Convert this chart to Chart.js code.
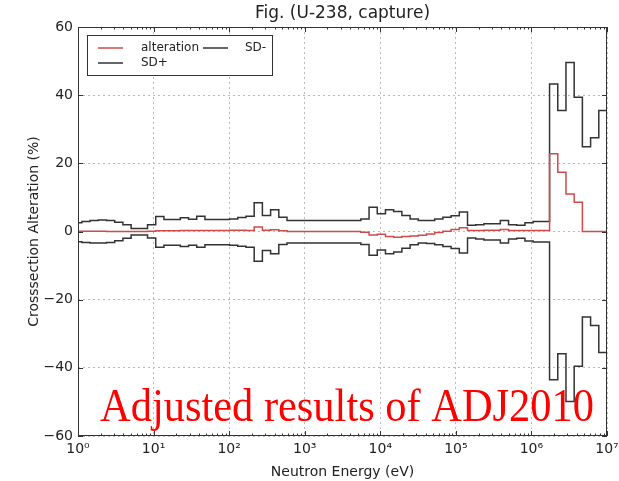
<!DOCTYPE html>
<html>
<head>
<meta charset="utf-8">
<script src="https://cdn.jsdelivr.net/npm/chart.js@4.4.0/dist/chart.umd.min.js"></script>
<style>
  body { margin: 0; background: #fff; }
  canvas { display: block; }
</style>
</head>
<body>
<canvas id="chart" width="619" height="481"></canvas>
<script>
// group edges in eV (last value closes the top group)
const energyEdges = [1, 1.125, 1.445, 1.855, 2.382, 3.059, 3.928, 5.044, 8.315, 10.68,
  13.71, 22.60, 29.02, 37.27, 47.85, 101.3, 130.1, 167.0, 214.5, 275.4,
  353.6, 454.0, 582.9, 5531, 7102, 9119, 11709, 15034, 19305, 24788,
  31828, 40868, 52475, 67379, 86517, 111090, 142642, 183156, 235177, 387742,
  497871, 639279, 820850, 1053992, 1737739, 2231302, 2865048, 3678794, 4723666, 6065307,
  7788008, 1e7];

const alteration = [0.1, 0.1, 0.1, 0.1, 0.0, 0.0, 0.0, 0.0, 0.1, 0.2,
  0.2, 0.3, 0.3, 0.3, 0.3, 0.4, 0.4, 0.3, 1.3, 0.4,
  0.5, 0.2, 0.0, -0.2, -1.0, -0.8, -1.5, -1.7, -1.5, -1.3,
  -1.1, -0.7, -0.3, 0.1, 0.6, 1.1, 0.3, 0.3, 0.4, 0.6,
  0.3, 0.3, 0.3, 0.3, 22.8, 17.4, 11.0, 8.6, 0, 0,
  0];

const sdPlus = [2.6, 2.9, 3.2, 3.4, 3.2, 2.7, 2.0, 0.9, 2.0, 4.4,
  3.5, 4.0, 3.6, 4.5, 3.5, 3.7, 4.1, 4.5, 8.4, 4.7,
  6.4, 4.2, 3.2, 3.7, 7.1, 5.2, 6.4, 5.9, 4.7, 3.7,
  3.2, 3.2, 3.7, 4.2, 4.6, 5.7, 1.8, 2.0, 2.3, 3.2,
  2.0, 1.8, 2.6, 2.9, 43.3, 35.5, 49.6, 39.4, 24.9, 27.5,
  35.5];

const sdMinus = [-3.0, -3.2, -3.4, -3.4, -3.2, -2.7, -2.0, -1.0, -1.9, -4.6,
  -4.0, -4.4, -4.0, -4.6, -3.9, -4.0, -4.3, -4.6, -8.7, -5.6,
  -6.5, -3.8, -3.4, -3.8, -7.0, -5.4, -6.5, -6.0, -4.9, -3.9,
  -3.4, -3.5, -3.9, -4.4, -5.0, -6.3, -1.9, -2.2, -2.5, -3.4,
  -2.2, -2.0, -2.8, -3.1, -43.5, -35.9, -49.9, -39.5, -25.1, -27.6,
  -35.5];

const xDecades = [1, 10, 100, 1e3, 1e4, 1e5, 1e6, 1e7];
const xTickLabels = ["10\u2070", "10\u00b9", "10\u00b2", "10\u00b3", "10\u2074", "10\u2075", "10\u2076", "10\u2077"];
const yTicks = [-60, -40, -20, 0, 20, 40, 60];

const FONT = "'DejaVu Sans', sans-serif";

// step points: one point per group start, plus the closing edge
function toSteps(values) {
  return energyEdges.map((e, i) => ({ x: e, y: values[Math.min(i, values.length - 1)] }));
}

const decorations = {
  id: "decorations",
  afterDraw(chart) {
    const ctx = chart.ctx;
    const a = chart.chartArea;
    const xs = chart.scales.x, ys = chart.scales.y;
    ctx.save();

    // frame
    ctx.strokeStyle = "#333";
    ctx.lineWidth = 1;
    ctx.strokeRect(a.left + 0.5, a.top + 0.5, a.right - a.left - 1, a.bottom - a.top - 1);

    // inward ticks
    ctx.beginPath();
    xDecades.forEach((d, i) => {
      const px = Math.round(xs.getPixelForValue(d)) + 0.5;
      ctx.moveTo(px, a.bottom); ctx.lineTo(px, a.bottom - 5);
      ctx.moveTo(px, a.top); ctx.lineTo(px, a.top + 5);
      if (i < xDecades.length - 1) {
        for (let m = 2; m <= 9; m++) {
          const mx = Math.round(xs.getPixelForValue(d * m)) + 0.5;
          ctx.moveTo(mx, a.bottom); ctx.lineTo(mx, a.bottom - 2.5);
          ctx.moveTo(mx, a.top); ctx.lineTo(mx, a.top + 2.5);
        }
      }
    });
    yTicks.forEach(v => {
      const py = Math.round(ys.getPixelForValue(v)) + 0.5;
      ctx.moveTo(a.left, py); ctx.lineTo(a.left + 5, py);
      ctx.moveTo(a.right, py); ctx.lineTo(a.right - 5, py);
    });
    ctx.stroke();

    // title
    ctx.fillStyle = "#222";
    ctx.font = "17px " + FONT;
    ctx.textAlign = "center";
    ctx.textBaseline = "middle";
    ctx.fillText("Fig. (U-238, capture)", (a.left + a.right) / 2, 14);

    // legend (two columns, matplotlib style)
    ctx.fillStyle = "#fff";
    ctx.fillRect(87, 35, 185, 40);
    ctx.strokeStyle = "#333";
    ctx.strokeRect(87.5, 35.5, 185, 40);
    ctx.lineWidth = 1.5;
    const rows = [
      { x1: 98, x2: 123, y: 48, color: "#d04a4a", label: "alteration", tx: 141 },
      { x1: 98, x2: 123, y: 63, color: "#333", label: "SD+", tx: 141 },
      { x1: 203, x2: 228, y: 48, color: "#333", label: "SD-", tx: 245 }
    ];
    ctx.font = "12px " + FONT;
    ctx.textAlign = "left";
    rows.forEach(r => {
      ctx.strokeStyle = r.color;
      ctx.beginPath(); ctx.moveTo(r.x1, r.y); ctx.lineTo(r.x2, r.y); ctx.stroke();
      ctx.fillStyle = "#222";
      ctx.fillText(r.label, r.tx, r.y);
    });

    // overlay caption
    const caption = "Adjusted results of ADJ2010";
    ctx.font = "47px 'Liberation Serif', 'Times New Roman', serif";
    ctx.textBaseline = "alphabetic";
    const w = ctx.measureText(caption).width;
    ctx.translate(100, 421);
    ctx.scale(494 / w, 1);
    ctx.fillStyle = "#ff0000";
    ctx.fillText(caption, 0, 0);
    ctx.restore();
  }
};

new Chart(document.getElementById("chart"), {
  type: "line",
  data: {
    datasets: [
      { label: "alteration", data: toSteps(alteration), borderColor: "#d04a4a", borderWidth: 1.5 },
      { label: "SD+", data: toSteps(sdPlus), borderColor: "#333", borderWidth: 1.5 },
      { label: "SD-", data: toSteps(sdMinus), borderColor: "#333", borderWidth: 1.5 }
    ]
  },
  options: {
    responsive: false,
    animation: false,
    elements: {
      point: { radius: 0 },
      line: { stepped: true, tension: 0, fill: false }
    },
    layout: { padding: { top: 27, right: 12, left: 0, bottom: 0 } },
    plugins: { legend: { display: false }, tooltip: { enabled: false } },
    scales: {
      x: {
        type: "logarithmic",
        min: 1,
        max: 1e7,
        afterBuildTicks: s => { s.ticks = xDecades.map(v => ({ value: v })); },
        afterFit: s => { s.height = 45; s.paddingLeft = 0; s.paddingRight = 0; },
        ticks: {
          autoSkip: false,
          maxRotation: 0,
          padding: 5,
          color: "#222",
          font: { family: FONT, size: 14 },
          callback: (v) => xTickLabels[xDecades.indexOf(v)] || ""
        },
        grid: { color: "#bbb", lineWidth: 1, drawTicks: false },
        border: { display: false, dash: [2, 3] },
        title: {
          display: true,
          text: "Neutron Energy (eV)",
          color: "#222",
          font: { family: FONT, size: 14 },
          padding: { top: 0, bottom: 0 }
        }
      },
      y: {
        min: -60,
        max: 60,
        afterBuildTicks: s => { s.ticks = yTicks.map(v => ({ value: v })); },
        afterFit: s => { s.width = 78; s.paddingTop = 0; s.paddingBottom = 0; },
        ticks: {
          padding: 5,
          color: "#222",
          font: { family: FONT, size: 14 },
          callback: v => String(v).replace("-", "\u2212")
        },
        grid: { color: "#bbb", lineWidth: 1, drawTicks: false },
        border: { display: false, dash: [2, 3] },
        title: {
          display: true,
          text: "Crosssection Alteration (%)",
          color: "#222",
          font: { family: FONT, size: 14 },
          padding: { top: 26, bottom: 0 }
        }
      }
    }
  },
  plugins: [decorations]
});
</script>
</body>
</html>
